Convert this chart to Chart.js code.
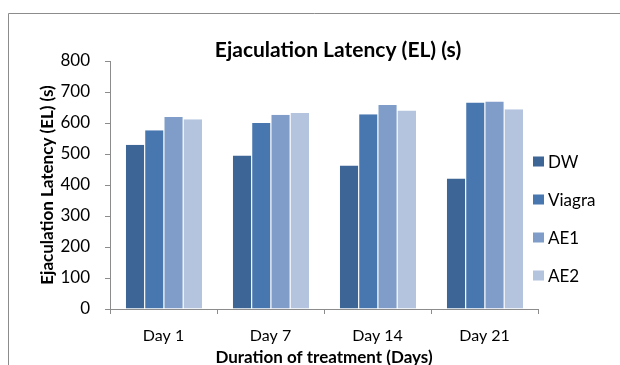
<!DOCTYPE html>
<html>
<head>
<meta charset="utf-8">
<script src="https://cdn.jsdelivr.net/npm/chart.js@4/dist/chart.umd.min.js"></script>
<style>
  html, body { margin: 0; padding: 0; background: #fff; }
  #wrap { position: relative; width: 620px; height: 365px; }
</style>
</head>
<body>
<div id="wrap"><canvas id="myChart" width="620" height="365"></canvas></div>
<script>
// datos del grafico
const chartTitle = "Ejaculation Latency (EL) (s)";
const categories = ["Day 1", "Day 7", "Day 14", "Day 21"];
const seriesNames = ["DW", "Viagra", "AE1", "AE2"];
const dwValues = [530, 495, 463, 421];
const viagraValues = [577, 600, 628, 666];
const ae1Values = [619, 627, 658, 669];
const ae2Values = [612, 632, 640, 644];
const yTicks = [0, 100, 200, 300, 400, 500, 600, 700, 800];

const colors = ["#3d6596", "#4877b0", "#7f9dc8", "#b5c4de"];
const axisGray = "#8c8c8c";
const fontName = "Lato, 'Open Sans', sans-serif";

// marco, titulo y leyenda dibujados a mano
const framePlugin = {
  id: "frame",
  beforeDraw(chart) {
    const ctx = chart.ctx;
    ctx.save();
    ctx.fillStyle = "#fff";
    ctx.fillRect(0, 0, chart.width, chart.height);
    ctx.strokeStyle = axisGray;
    ctx.lineWidth = 1;
    ctx.beginPath();
    ctx.moveTo(8.5, chart.height);
    ctx.lineTo(8.5, 13.5);
    ctx.lineTo(chart.width, 13.5);
    ctx.stroke();
    ctx.restore();
  },
  afterDraw(chart) {
    const ctx = chart.ctx;
    ctx.save();
    // titulo
    ctx.fillStyle = "#000";
    ctx.font = "bold 21px " + fontName;
    ctx.textAlign = "center";
    ctx.textBaseline = "middle";
    ctx.fillText(chartTitle, 338, 50);
    // leyenda
    ctx.font = "17px " + fontName;
    ctx.textAlign = "left";
    chart.data.datasets.forEach((ds, i) => {
      const cy = 161.5 + i * 38;
      ctx.fillStyle = ds.backgroundColor;
      ctx.fillRect(533, cy - 5, 11, 10);
      ctx.fillStyle = "#000";
      ctx.fillText(ds.label, 548, cy + 1);
    });
    ctx.restore();
  },
};

const valueSets = [dwValues, viagraValues, ae1Values, ae2Values];

const ctx = document.getElementById("myChart").getContext("2d");
const chartInstance = new Chart(ctx, {
  type: "bar",
  data: {
    labels: categories,
    datasets: seriesNames.map((name, i) => ({
      label: name,
      data: valueSets[i],
      backgroundColor: colors[i],
      borderColor: "rgba(255,255,255,0.45)",
      borderWidth: { left: 1, right: 0, top: 0, bottom: 0 },
      categoryPercentage: 0.72,
      barPercentage: 1.0,
    })),
  },
  plugins: [framePlugin],
  options: {
    responsive: false,
    animation: false,
    devicePixelRatio: 1,
    layout: { padding: { left: 0, right: 82, top: 61, bottom: 0 } },
    plugins: {
      legend: { display: false },
      tooltip: { enabled: false },
      title: { display: false },
    },
    scales: {
      x: {
        grid: {
          offset: true,
          drawOnChartArea: false,
          drawTicks: true,
          tickLength: 5,
          color: axisGray,
        },
        border: { color: axisGray, width: 1 },
        ticks: {
          color: "#000",
          font: { family: fontName, size: 16 },
          padding: 12,
          maxRotation: 0,
        },
        title: {
          display: true,
          text: "Duration of treatment (Days)",
          color: "#000",
          font: { family: fontName, size: 17, weight: "bold" },
          padding: { top: 0, bottom: -3 },
        },
        afterFit(scale) {
          scale.height = 56;
        },
      },
      y: {
        min: 0,
        max: 800,
        afterBuildTicks(scale) {
          scale.ticks = yTicks.map((v) => ({ value: v }));
        },
        grid: {
          drawOnChartArea: false,
          drawTicks: true,
          tickLength: 5,
          color: axisGray,
        },
        border: { color: axisGray, width: 1 },
        ticks: {
          color: "#000",
          font: { family: fontName, size: 17 },
          padding: 15,
        },
        title: {
          display: true,
          text: "Ejaculation Latency (EL) (s)",
          color: "#000",
          font: { family: fontName, size: 17, weight: "bold" },
          padding: { top: 37, bottom: 0 },
        },
        afterFit(scale) {
          scale.width = 110;
        },
      },
    },
  },
});
</script>
</body>
</html>
